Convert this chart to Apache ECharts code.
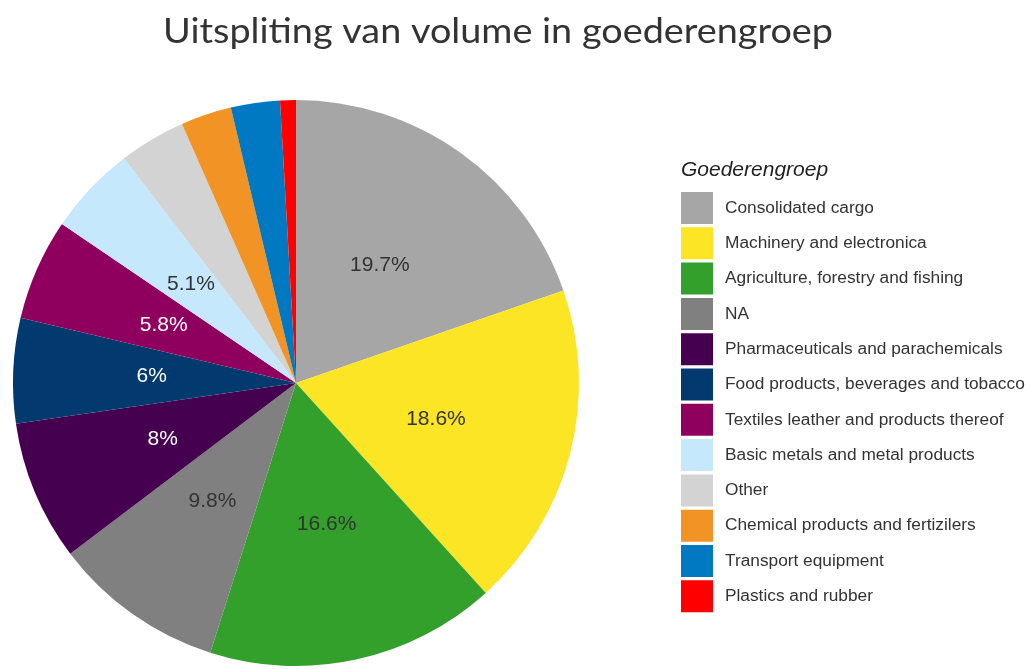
<!DOCTYPE html>
<html>
<head>
<meta charset="utf-8">
<script src="https://cdn.jsdelivr.net/npm/echarts@6/dist/echarts.min.js"></script>
<style>
  html, body { margin: 0; padding: 0; background: #fff; }
  #chart { width: 1032px; height: 669px; }
</style>
</head>
<body>
<div id="chart"></div>
<script>
// Goederengroepen, in volgorde van de taart (met de klok mee vanaf boven)
const categories = [
  "Consolidated cargo",
  "Machinery and electronica",
  "Agriculture, forestry and fishing",
  "NA",
  "Pharmaceuticals and parachemicals",
  "Food products, beverages and tobacco",
  "Textiles leather and products thereof",
  "Basic metals and metal products",
  "Other",
  "Chemical products and fertizilers",
  "Transport equipment",
  "Plastics and rubber",
];
// aandeel in volume (%)
const shares = [19.7, 18.6, 16.6, 9.8, 8, 6, 5.8, 5.1, 3.8, 2.9, 2.8, 0.9];
const colors = [
  "#a6a6a6", "#fce524", "#33a02c", "#808080", "#45004f", "#023a6f",
  "#8f005e", "#c6e8fc", "#d3d3d3", "#f29325", "#0079c2", "#ff0000",
];
// donkere taartpunten krijgen wit label
const darkSlices = new Set([4, 5, 6]);

const chart = echarts.init(document.getElementById("chart"), null, { renderer: "canvas" });

chart.setOption({
  animation: false,
  color: colors,
  graphic: [
    {
      // titel iets breder getrokken, zoals in het origineel
      type: "text",
      x: 498,
      y: 32,
      scaleX: 1.08,
      originX: 0,
      style: {
        text: "Uitspliting van volume in goederengroep",
        fontFamily: "Lato",
        fontSize: 35,
        fill: "#333",
        align: "center",
        verticalAlign: "middle",
      },
    },
  ],
  title: {
    text: "Goederengroep",
    left: 676,
    top: 155,
    textStyle: {
      fontFamily: "Liberation Sans",
      fontSize: 21,
      fontStyle: "italic",
      fontWeight: "normal",
      color: "#222",
    },
  },
  legend: {
    orient: "vertical",
    left: 681,
    top: 192,
    padding: 0,
    icon: "rect",
    itemWidth: 32,
    itemHeight: 32,
    itemGap: 3.3,
    data: categories,
    textStyle: { fontFamily: "Liberation Sans", fontSize: 17.3, color: "#333", padding: [0, 0, 0, 7] },
  },
  series: [
    {
      type: "pie",
      center: [296, 383],
      radius: 283,
      startAngle: 90,
      clockwise: true,
      avoidLabelOverlap: false,
      itemStyle: { borderWidth: 0 },
      emphasis: { disabled: true },
      label: {
        show: true,
        position: "inside",
        fontFamily: "Liberation Sans",
        fontSize: 21,
        color: "#333",
        formatter: (p) => (p.value >= 5 ? `${p.value}%` : ""),
      },
      labelLine: { show: false },
      data: categories.map((name, i) => ({
        name,
        value: shares[i],
        label: darkSlices.has(i) ? { color: "#fff" } : undefined,
      })),
    },
  ],
});
</script>
</body>
</html>
